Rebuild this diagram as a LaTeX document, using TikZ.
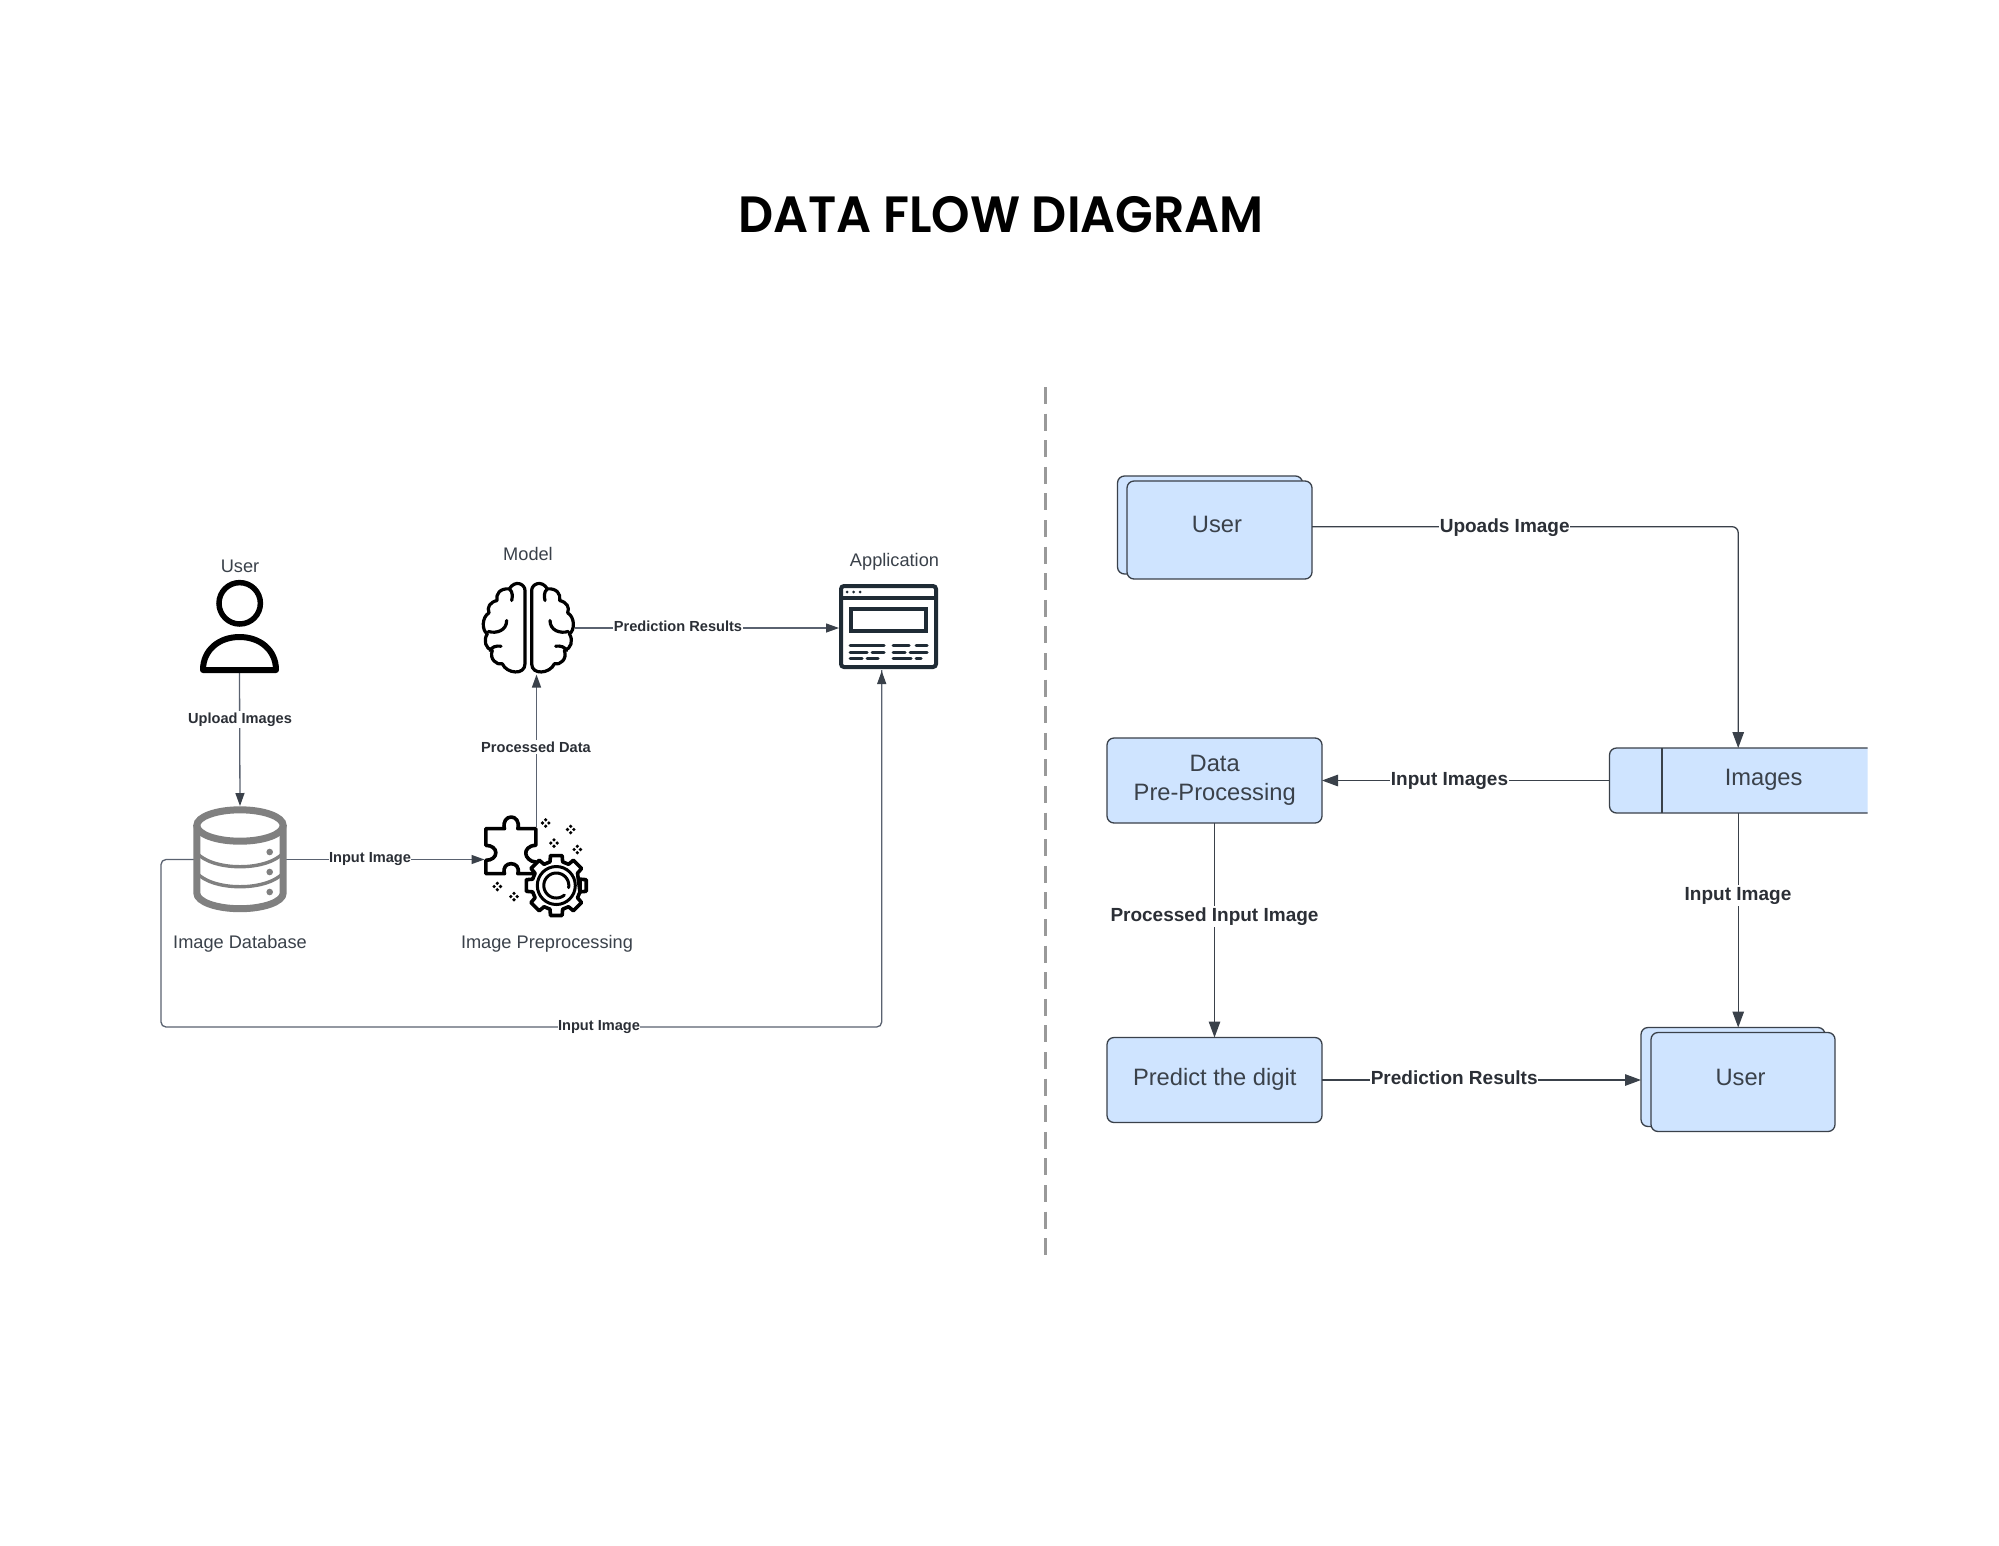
\documentclass[tikz,border=0pt]{standalone}
\usepackage{fontspec}
\setmainfont{Liberation Sans}
\newfontfamily\titlefont{Poppins}[UprightFont=* SemiBold]
\usetikzlibrary{arrows.meta}
\definecolor{ink}{HTML}{3A414A}
\definecolor{wire}{HTML}{5A6270}
\definecolor{lab}{HTML}{2B2F36}
\definecolor{boxblue}{HTML}{CFE4FF}
\definecolor{dbgray}{HTML}{808080}
\definecolor{appink}{HTML}{1F2B35}
\tikzset{
  x=1pt,y=-1pt,
  lwire/.style={draw=wire,line width=1.3pt,rounded corners=5pt},
  larrow/.style={lwire,-{Triangle[length=13pt,width=9pt,fill=ink,color=ink]}},
  rwire/.style={draw=ink,line width=1.3pt,rounded corners=6pt},
  rarrow/.style={rwire,-{Triangle[length=16pt,width=11.5pt,fill=ink,color=ink]}},
  llab/.style={fill=white,text=lab,inner xsep=0.5pt,inner ysep=2pt,font=\fontsize{14.6}{17}\selectfont\bfseries},
  rlab/.style={fill=white,text=lab,inner xsep=0.5pt,inner ysep=2pt,font=\fontsize{19}{22}\selectfont\bfseries},
  ltext/.style={text=ink,inner sep=0pt,font=\fontsize{18.2}{21}\selectfont},
  rtext/.style={text=ink,inner sep=0pt,align=center,font=\fontsize{23.7}{29.4}\selectfont},
  icon/.style={inner sep=0pt,outer sep=0pt,draw=none},
  bluebox/.style={draw=ink,fill=boxblue,line width=1.3pt,rounded corners=7pt,inner sep=0pt,outer sep=0pt},
  sketch/.style={line width=3.6pt,line join=round,line cap=round,draw=black},
  appline/.style={line width=3pt,line cap=round,draw=appink},
}
\begin{document}
\begin{tikzpicture}
\useasboundingbox (0,0) rectangle (1999,1545);
\fill[white] (0,0) rectangle (1999,1545);

% title
\node[inner sep=0pt,font=\fontsize{51}{60}\selectfont\titlefont,xscale=0.96] (title) at (1001,214.5) {DATA FLOW DIAGRAM};

% divider
\coordinate (divTop) at (1045.7,387);
\coordinate (divBot) at (1045.7,1257);
\draw[draw=black!40,line width=2.5pt,dash pattern=on 17pt off 9.6pt] (divTop) -- (divBot);

% ---------- left: icon anchors
\node[icon,minimum width=79pt,minimum height=93pt] (userIcon) at (239.5,626.5) {};
\node[icon,minimum width=92pt,minimum height=107pt] (db) at (240,859.5) {};
\node[icon,minimum width=52pt,minimum height=48pt] (puzzle) at (510.5,851) {};
\node[icon,minimum width=93pt,minimum height=93pt] (brain) at (528.5,628) {};
\node[icon,minimum width=99pt,minimum height=85pt] (app) at (888.5,627.5) {};
\coordinate (loopA) at (161,859.5);
\coordinate (loopB) at (161,1027);
\coordinate (loopC) at (881.7,1027);

% left connectors
\draw[larrow] (userIcon.south) -- (db.north);
\draw[lwire] (db.west) -- (loopA) -- (loopB) -- (loopC) -- (loopC |- app.south);
\draw[larrow,rounded corners=0pt] (loopC |- 0,690) -- ++(0,-19);
\draw[larrow] (db.east) -- (db.east -| puzzle.west);
\draw[larrow] (puzzle.north east) -- (puzzle.north east |- brain.south);
\draw[larrow] (brain.east) -- (brain.east -| app.west);

% user icon
\draw[black,line width=5.5pt] (239.7,603.3) circle[radius=20.7pt];
\draw[black,line width=6pt,line join=round] (203,670) .. controls (203,650) and (219,637) .. (239.5,637) .. controls (260,637) and (276,650) .. (276,670) -- cycle;

% database icon
\begin{scope}[draw=dbgray]
\draw[line width=7pt] (240,825.5) ellipse[x radius=43.2pt,y radius=15.7pt];
\draw[line width=7pt] (196.8,825.5) -- (196.8,893) .. controls (196.8,902) and (217,908.7) .. (240,908.7) .. controls (263,908.7) and (283.2,902) .. (283.2,893) -- (283.2,825.5);
\draw[line width=3.4pt] (196.8,853) .. controls (204,861) and (220,866.7) .. (240,866.7) .. controls (260,866.7) and (276,861) .. (283.2,853);
\draw[line width=3.4pt] (196.8,873) .. controls (204,881) and (220,886.7) .. (240,886.7) .. controls (260,886.7) and (276,881) .. (283.2,873);
\end{scope}
\foreach \dy in {852,872,892} \fill[dbgray] (269.7,\dy) circle[radius=3.3pt];

% brain icon
\foreach \xf/\xs in {1/475, -1/581.67}{
\begin{scope}[shift={(\xs,575.5)},xscale=\xf*0.3333,yscale=0.3333]
\draw[sketch,line width=3.2pt] (150,265) -- (150,45) .. controls (150,25) and (120,12) .. (103,40)
 .. controls (75,38) and (62,55) .. (66,75) .. controls (45,80) and (35,95) .. (42,112)
 .. controls (20,125) and (20,165) .. (37,175) .. controls (24,195) and (32,220) .. (52,225)
 .. controls (42,250) and (65,270) .. (82,265) .. controls (95,295) and (150,300) .. (150,265);
\draw[sketch,line width=3.2pt] (103,40) .. controls (115,50) and (112,65) .. (110,75);
\draw[sketch,line width=3.2pt] (95,135) .. controls (95,165) and (65,175) .. (40,168);
\draw[sketch,line width=3.2pt] (45,225) .. controls (50,215) and (62,210) .. (78,212);
\end{scope}}

% puzzle and gear icon
\begin{scope}[shift={(478.5,812)},scale=0.3333]
\draw[sketch] (22,50) -- (78,50) .. controls (72,28) and (85,15) .. (98,15) .. controls (111,15) and (124,28) .. (118,50)
 -- (172,50) -- (172,100) .. controls (150,100) and (140,115) .. (142,125) .. controls (142,135) and (155,150) .. (172,150)
 -- (172,185) -- (118,185) .. controls (124,165) and (111,155) .. (98,155) .. controls (85,155) and (72,165) .. (78,185)
 -- (22,185) -- (22,145) .. controls (40,145) and (52,135) .. (52,122) .. controls (52,110) and (40,100) .. (22,100) -- cycle;
\end{scope}
\draw[sketch,fill=white] (556.3+24.5*cos 15,885.5+24.5*sin 15)
 \foreach \k in {0,45,...,315}{
   -- ({556.3+24.5*cos(\k-15)},{885.5+24.5*sin(\k-15)})
   -- ({556.3+30.5*cos(\k-11)},{885.5+30.5*sin(\k-11)})
   -- ({556.3+30.5*cos(\k+11)},{885.5+30.5*sin(\k+11)})
   -- ({556.3+24.5*cos(\k+15)},{885.5+24.5*sin(\k+15)})
 } -- cycle;
\draw[black,line width=3pt] (556.3,885.5) circle[radius=19pt];
\draw[black,line width=3pt,line cap=round] plot[domain=50:370,samples=50] ({556.3+12.5*cos(\x)},{885.5+12.5*sin(\x)});
\foreach \px/\py in {545.7/823,570.7/829.5,554/843,577.3/849.5,497.3/886.5,514/896.5}{
  \foreach \ox/\oy in {3.2/0,-3.2/0,0/3.2,0/-3.2} \fill[black] (\px+\ox,\py+\oy) circle[radius=1.8pt];
}

% application icon
\draw[appink,line width=4pt,rounded corners=3pt] (841,586) rectangle (936,667);
\draw[appink,line width=3.5pt] (841,598) -- (936,598);
\draw[appink,line width=3.5pt] (851,609) rectangle (926,631);
\foreach \dx in {847,853.5,860} \fill[appink] (\dx,592) circle[radius=1.5pt];
\draw[appline] (850,645) -- (884,645) (850,652) -- (867,652) (872,652) -- (884,652) (850,658) -- (862,658) (867,658) -- (878,658);
\draw[appline] (893,645) -- (909,645) (916,645) -- (927,645) (893,652) -- (905,652) (910,652) -- (927,652) (893,658) -- (911,658) (916,658) -- (921,658);

% left texts
\node[ltext] (tUser) at (240,566) {User};
\node[ltext] (tModel) at (528,554) {Model};
\node[ltext] (tApp) at (894.5,561.5) {Application};
\node[ltext] (tDb) at (240,944) {Image Database};
\node[ltext] (tPrep) at (547,944) {Image Preprocessing};

% left connector labels
\node[llab] (lUpload) at (240,719.5) {Upload Images};
\node[llab] (lInA) at (370,859) {Input Image};
\node[llab] (lProc) at (536,747) {Processed Data};
\node[llab] (lPred) at (678,626) {Prediction Results};
\node[llab] (lInB) at (599,1027) {Input Image};

% ---------- right: boxes
\node[bluebox,minimum width=185pt,minimum height=98pt] (ub) at (1210,525) {};
\node[bluebox,minimum width=185pt,minimum height=98pt] (uf) at (1219.5,530) {};
\node[bluebox,minimum width=215pt,minimum height=85pt] (dpp) at (1214.5,780.5) {};
\node[bluebox,minimum width=215pt,minimum height=85pt] (pred) at (1214.5,1080) {};
\node[bluebox,minimum width=184pt,minimum height=99pt] (ub2) at (1733,1077) {};
\node[bluebox,minimum width=184pt,minimum height=99pt] (uf2) at (1743,1082) {};
\node[icon,minimum width=258pt,minimum height=65pt] (store) at (1738.5,780.5) {};
\fill[boxblue,rounded corners=7pt] (1867.5,748) -- (1609.5,748) -- (1609.5,813) -- (1867.5,813);
\draw[draw=ink,line width=1.3pt,rounded corners=7pt] (1867.5,748) -- (1609.5,748) -- (1609.5,813) -- (1867.5,813);
\draw[draw=ink,line width=1.3pt] (1662,748) -- (1662,813);
\coordinate (turn) at (1738.2,526.7);

% right connectors
\draw[rarrow] (uf.east |- turn) -- (turn) -- (turn |- store.north);
\draw[rarrow] (store.west) -- (dpp.east);
\draw[rarrow] (dpp.south) -- (pred.north);
\draw[rarrow] (turn |- store.south) -- (turn |- ub2.north);
\draw[rarrow] (pred.east) -- (pred.east -| ub2.west);

% right texts
\node[rtext] (tU1) at (1217,524) {User};
\node[rtext] (tDpp) at (1214.7,780) {Data\\Pre-Processing};
\node[rtext] (tImg) at (1763.6,780) {Images};
\node[rtext] (tPred) at (1214.7,1079) {Predict the digit};
\node[rtext] (tU2) at (1740.6,1077) {User};

% right labels
\node[rlab] (rUp) at (1504.7,527.5) {Upoads Image};
\node[rlab] (rIn) at (1449.5,780.5) {Input Images};
\node[rlab] (rProc) at (1214.5,916.5) {Processed Input Image};
\node[rlab] (rInB) at (1738,895.5) {Input Image};
\node[rlab] (rPred) at (1454.2,1078) {Prediction Results};
\end{tikzpicture}
\end{document}
